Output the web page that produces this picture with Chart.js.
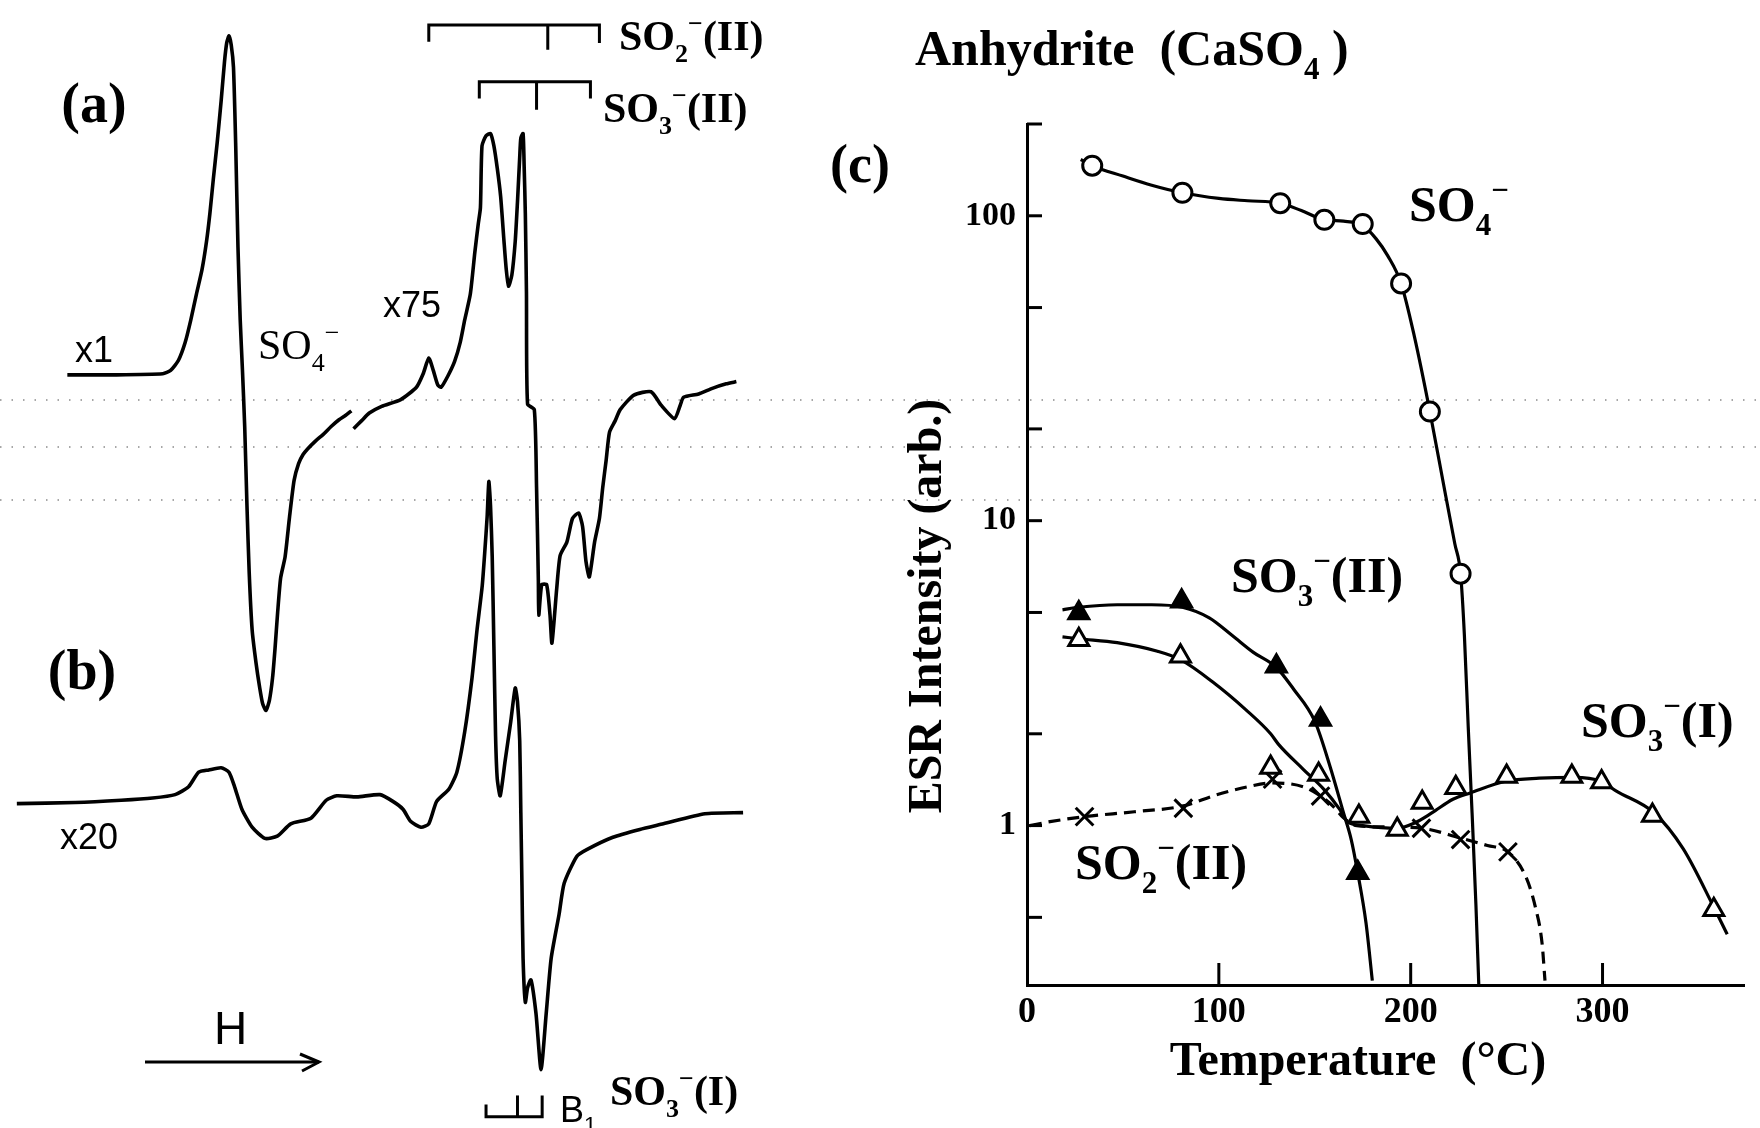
<!DOCTYPE html>
<html>
<head>
<meta charset="utf-8">
<script src="https://cdn.jsdelivr.net/npm/chart.js@4.4.0/dist/chart.umd.min.js"></script>
<style>
  html,body{margin:0;padding:0;background:#fff;}
  #wrap{position:relative;width:1760px;height:1128px;overflow:hidden;background:#fff;}
  #spec{position:absolute;left:0;top:0;}
  #temp{position:absolute;left:800px;top:0;}
</style>
</head>
<body>
<div id="wrap">
  <canvas id="spec" width="800" height="1128"></canvas>
  <canvas id="temp" width="960" height="1128"></canvas>
</div>
<script>
// ---- (a), (b): ESR derivative spectra, [field H (arb.), signal (arb.)]
const SPEC_A_X1 = [[60,1],[100,1],[145,2],[152,5],[159,14],[165,30],[170,50],[175,73],[180,95],[184,120],[187,145],[190,175],[193.5,208],[197,245],[200,280],[202,297],[204,303],[206,295],[208,275],[210,205],[212,115],[214,50],[216,5],[218,-45],[220,-115],[222,-175],[224.6,-226],[228,-255],[231.4,-278],[234,-292],[237,-298],[240,-289],[242.8,-269],[245,-243],[247.4,-210],[250,-180],[254,-161],[258,-125],[262,-93],[266,-78],[270,-70],[274,-65],[281,-58],[288,-52],[295,-45],[302,-39],[308,-35],[313,-31]];
const SPEC_A_X75 = [[315,-47],[322,-40],[329,-33],[340,-27],[357,-21],[371,-10],[377,2],[382,16],[386,5],[390,-8],[393,-10],[399,0],[405,13],[410,30],[414,50],[419,73],[423,110],[426,135],[428,150],[429.4,205],[433,214],[437,216],[440,205],[443,185],[446,160],[449,120],[451,95],[453,80],[456,90],[459,120],[461,155],[463,195],[464,212],[466,216],[467,185],[468,145],[469,75],[470,-25],[476,-30],[478,-99],[479.6,-182],[480,-213],[482.6,-186],[487,-186],[490,-213],[491.7,-238],[496,-189],[499,-160],[505,-148],[510,-127],[515.4,-122],[519,-134],[522,-165],[525,-179],[529.7,-148],[534,-127],[537,-99],[540,-75],[543,-50],[548,-40],[552.5,-30],[564.7,-17],[580,-14],[589,-26],[601,-38],[606,-26],[609,-19],[622.4,-16],[634.6,-11],[647,-7],[656,-5]];
const SPEC_B_X20 = [[15,0],[67,1],[108,3],[136,5],[156,8],[168,15],[177,28],[186,30],[197,32],[204,28],[209,15],[215.5,-5],[224.6,-21],[236,-31],[247,-29],[259,-18],[277,-13],[290.6,3],[300,7],[318,6],[338.5,8],[350,2],[359,-5],[366,-16],[375,-21],[382,-18],[389,2],[400,13],[407,28],[414,64],[420.5,112],[425,155],[429.6,194],[432,226],[434,256],[435.5,287],[437,265],[438.5,220],[440,140],[441.5,60],[443,22],[445.6,7],[450,38],[455,73],[459,103],[461,91],[463,56],[464,-8],[465,-73],[466,-138],[468,-177],[470,-164],[473,-157],[477.5,-187],[482,-237],[486.6,-187],[491,-138],[498,-99],[502.6,-71],[513.8,-47],[522.7,-41],[546,-30],[570,-23],[591,-18],[628,-9],[662,-8]];
// stick diagrams: line positions (H)
const STICK_SO2_II = [382, 488, 534];
const STICK_SO3_II = [427, 478, 526];
const STICK_SO3_I = [433, 461, 483];

// ---- (c): ESR intensity vs temperature
const X_TICKS = [0, 100, 200, 300];
const Y_LABEL_TICKS = [1, 10, 100];
const Y_MINOR_TICKS = [0.5, 2, 5, 20, 50, 200];

const SO4_T = [34, 81, 132, 155, 175, 195, 210, 226];
const SO4_I = [146, 119, 110, 97, 94, 60, 22.8, 6.7];
const SO4_FIT = [[28,153],[34,146],[50,135],[65,126],[81,119],[100,114],[115,112],[132,110],[143,104],[155,97],[165,96],[175,93],[182,84],[188,74],[195,60],[202,40],[210,22.8],[218,12.3],[223,8.4],[226,6.7],[228,4.2],[230,2.1],[232,1.1],[234,0.55],[235.5,0.3]];

const SO3II_T = [27, 80.6, 130, 153, 172.4];
const SO3II_I = [4.98, 5.44, 3.33, 2.23, 0.70];
const SO3II_FIT = [[18.5,5.1],[27,5.2],[47,5.3],[65,5.3],[81,5.2],[95,4.8],[107,4.2],[118,3.7],[130,3.3],[139,2.8],[150,2.2],[158,1.56],[165,1.1],[169,0.9],[172.4,0.7],[176.7,0.48],[180,0.31]];

const SO3I_T = [27, 80, 127, 152, 173, 193, 206, 223.5, 250, 284, 299.5, 326, 358];
const SO3I_I = [4.07, 3.59, 1.55, 1.47, 1.07, 0.97, 1.19, 1.33, 1.45, 1.45, 1.39, 1.08, 0.53];
const SO3I_FIT = [[18.5,4.16],[27,4.1],[47,3.98],[68,3.73],[80,3.5],[97,2.95],[114,2.4],[127,2.0],[131,1.85],[144,1.53],[155,1.31],[163,1.13],[167,1.03],[175,1.0],[193,0.98],[202,1.02],[211,1.1],[222,1.22],[231,1.28],[250,1.4],[267,1.43],[285,1.44],[299,1.4],[307,1.3],[327,1.1],[342,0.84],[358,0.54],[365,0.44]];

const SO2II_T = [30, 81.5, 128, 153, 205.6, 226, 250.7];
const SO2II_I = [1.07, 1.14, 1.42, 1.25, 0.98, 0.90, 0.82];
const SO2II_FIT = [[1.5,1.0],[12,1.03],[30,1.07],[56,1.11],[81.5,1.16],[98.5,1.26],[115,1.34],[128,1.38],[144,1.34],[153,1.25],[160,1.15],[165,1.06],[172,1.0],[185,0.99],[205.6,0.98],[226,0.91],[240,0.86],[250.7,0.82],[260,0.68],[265,0.54],[268.5,0.41],[270,0.31]];

const SERIF = '"Liberation Serif","Times New Roman",serif';
const SANS = '"Liberation Sans",Arial,sans-serif';
const INK = '#000';
const SCAN_ROWS = [400, 447, 500];

// draws text made of normal / sub / sup pieces
function drawRich(ctx, parts, x, y, size, family, weight, align){
  let w = 0;
  const segs = parts.map(([t, k]) => {
    const s = k ? size * 0.62 : size;
    ctx.font = `${weight} ${s}px ${family}`;
    const m = ctx.measureText(t).width;
    const dy = k === 'sub' ? size * 0.28 : (k === 'sup' ? -size * 0.42 : 0);
    const seg = {t, s, dy, dx: w};
    w += m;
    return seg;
  });
  const x0 = align === 'center' ? x - w / 2 : x;
  ctx.textAlign = 'left';
  ctx.textBaseline = 'alphabetic';
  segs.forEach(g => {
    ctx.font = `${weight} ${g.s}px ${family}`;
    ctx.fillText(g.t, x0 + g.dx, y + g.dy);
  });
}
const so = (n, tail) => [['SO',''],[String(n),'sub'],['\u2212','sup'],[tail,'']];

function scanDots(ctx, width){
  ctx.save();
  ctx.strokeStyle = '#8a8a8a';
  ctx.lineWidth = 1.6;
  ctx.setLineDash([1.5, 10]);
  SCAN_ROWS.forEach(r => { ctx.beginPath(); ctx.moveTo(0, r); ctx.lineTo(width, r); ctx.stroke(); });
  ctx.restore();
}

// ---------------- spectra panel ----------------
const BASE_A = 335, BASE_B = 716;
function traceSet(pairs, base){
  return {data: pairs.map(([h, s]) => ({x: h, y: base - s})), borderColor: INK, borderWidth: 3.6,
          pointRadius: 0, tension: 0.2, fill: false};
}
function bracketSets(lines, barY, dir, ends, mid){
  const st = {borderColor: INK, borderWidth: 3, pointRadius: 0, tension: 0, fill: false};
  return [
    {...st, data: [{x: lines[0], y: barY + dir * ends[0]}, {x: lines[0], y: barY}, {x: lines[2], y: barY}, {x: lines[2], y: barY + dir * ends[1]}]},
    {...st, data: [{x: lines[1], y: barY}, {x: lines[1], y: barY + dir * mid}]}
  ];
}

const specDecor = {
  id: 'specDecor',
  beforeDatasetsDraw(chart){ scanDots(chart.ctx, chart.width); },
  afterDraw(chart){
    const ctx = chart.ctx;
    ctx.save();
    ctx.fillStyle = INK;
    ctx.font = `bold 56px ${SERIF}`;
    ctx.textAlign = 'center'; ctx.textBaseline = 'middle';
    ctx.fillText('(a)', 94, 108);
    ctx.fillText('(b)', 82, 675);
    ctx.textAlign = 'left'; ctx.textBaseline = 'alphabetic';
    ctx.font = `36px ${SANS}`;
    ctx.fillText('x1', 75, 362);
    ctx.fillText('x75', 383, 317);
    ctx.fillText('x20', 60, 849);
    ctx.font = `46px ${SANS}`;
    ctx.fillText('H', 214, 1044);
    drawRich(ctx, [['SO',''],['4','sub'],['\u2212','sup']], 258, 359, 42, SERIF, 'normal');
    drawRich(ctx, so(2, '(II)'), 619, 50, 42, SERIF, 'bold');
    drawRich(ctx, so(3, '(II)'), 603, 122, 42, SERIF, 'bold');
    drawRich(ctx, so(3, '(I)'), 610, 1105, 42, SERIF, 'bold');
    drawRich(ctx, [['B',''],['1','sub']], 560, 1122, 36, SANS, 'normal');
    // field direction arrow
    ctx.strokeStyle = INK; ctx.lineWidth = 3;
    ctx.beginPath(); ctx.moveTo(145, 1062); ctx.lineTo(319, 1062); ctx.stroke();
    ctx.beginPath(); ctx.moveTo(300, 1054); ctx.lineTo(319, 1062); ctx.lineTo(302, 1071); ctx.stroke();
    ctx.restore();
  }
};

// ---------------- temperature panel ----------------
function fitSet(pairs, dashed){
  return {data: pairs.map(([t, v]) => ({x: t, y: v})), borderColor: INK, borderWidth: 3.2,
          borderDash: dashed ? [12, 7] : [], pointRadius: 0, cubicInterpolationMode: 'monotone',
          fill: false, order: 2};
}
function markSet(ts, vals, style, filled, r){
  return {data: ts.map((t, i) => ({x: t, y: vals[i]})), showLine: false, pointStyle: style,
          pointRadius: r, pointBorderWidth: 3, pointBorderColor: INK,
          pointBackgroundColor: filled ? INK : '#fff', order: 1};
}

const tempDecor = {
  id: 'tempDecor',
  beforeDatasetsDraw(chart){ scanDots(chart.ctx, chart.width); },
  afterDraw(chart){
    const {ctx, chartArea: a, scales: {x, y}} = chart;
    ctx.save();
    ctx.strokeStyle = INK; ctx.lineWidth = 3;
    [...Y_LABEL_TICKS, ...Y_MINOR_TICKS].forEach(v => {
      const py = y.getPixelForValue(v);
      ctx.beginPath(); ctx.moveTo(a.left, py); ctx.lineTo(a.left + 15, py); ctx.stroke();
    });
    X_TICKS.filter(v => v > 0).forEach(v => {
      const px = x.getPixelForValue(v);
      ctx.beginPath(); ctx.moveTo(px, a.bottom); ctx.lineTo(px, a.bottom - 22); ctx.stroke();
    });
    ctx.fillStyle = INK;
    drawRich(ctx, [['Anhydrite  (CaSO',''],['4','sub'],[' )','']], 115, 65, 50, SERIF, 'bold');
    ctx.font = `bold 54px ${SERIF}`;
    ctx.textAlign = 'center'; ctx.textBaseline = 'alphabetic';
    ctx.fillText('(c)', 60, 182);
    ctx.font = `bold 48px ${SERIF}`;
    ctx.fillText('Temperature  (\u00B0C)', 558, 1075);
    ctx.save();
    ctx.translate(129, 606); ctx.rotate(-Math.PI / 2);
    ctx.textBaseline = 'middle';
    ctx.fillText('ESR Intensity (arb.)', 0, 0);
    ctx.restore();
    drawRich(ctx, [['SO',''],['4','sub'],['\u2212','sup']], 609, 221, 50, SERIF, 'bold');
    drawRich(ctx, so(3, '(II)'), 431, 592, 50, SERIF, 'bold');
    drawRich(ctx, so(3, '(I)'), 781, 737, 50, SERIF, 'bold');
    drawRich(ctx, so(2, '(II)'), 275, 879, 50, SERIF, 'bold');
    ctx.restore();
  }
};

function build(){
  Chart.defaults.font.family = SERIF;
  Chart.defaults.color = INK;

  new Chart(document.getElementById('spec'), {
    type: 'line',
    data: {datasets: [
      traceSet(SPEC_A_X1, BASE_A),
      traceSet(SPEC_A_X75, BASE_A),
      traceSet(SPEC_B_X20, BASE_B),
      ...bracketSets(STICK_SO2_II, 22.3, 1, [15, 16], 22),
      ...bracketSets(STICK_SO3_II, 72.8, 1, [15, 15], 25),
      ...bracketSets(STICK_SO3_I, 995, -1, [11, 19], 19)
    ]},
    options: {
      responsive: false, animation: false, events: [],
      layout: {padding: 0},
      plugins: {legend: {display: false}, tooltip: {enabled: false}},
      scales: {
        x: {type: 'linear', min: 0, max: 712.7, display: false},
        y: {type: 'linear', min: 0, max: 1005, reverse: true, display: false}
      }
    },
    plugins: [specDecor]
  });

  new Chart(document.getElementById('temp'), {
    type: 'line',
    data: {datasets: [
      markSet(SO4_T, SO4_I, 'circle', false, 9.5),
      markSet(SO3II_T, SO3II_I, 'triangle', true, 11.5),
      markSet(SO3I_T, SO3I_I, 'triangle', false, 11.5),
      markSet(SO2II_T, SO2II_I, 'crossRot', false, 12.5),
      fitSet(SO4_FIT, false),
      fitSet(SO3II_FIT, false),
      fitSet(SO3I_FIT, false),
      fitSet(SO2II_FIT, true)
    ]},
    options: {
      responsive: false, animation: false, events: [],
      layout: {padding: {left: 0, right: 0, top: 124, bottom: 0}},
      plugins: {legend: {display: false}, tooltip: {enabled: false}},
      scales: {
        x: {
          type: 'linear', min: 0, max: 374, bounds: 'data',
          afterBuildTicks: s => { s.ticks = X_TICKS.map(v => ({value: v})); },
          afterFit: s => { s.height = 143; },
          grid: {display: false, drawTicks: false},
          border: {display: true, color: INK, width: 3},
          ticks: {color: INK, padding: 6, maxRotation: 0, font: {family: SERIF, size: 36, weight: 'bold'}}
        },
        y: {
          type: 'logarithmic', min: 0.3, max: 200, bounds: 'data',
          afterBuildTicks: s => { s.ticks = Y_LABEL_TICKS.map(v => ({value: v})); },
          afterFit: s => { s.width = 227; },
          grid: {display: false, drawTicks: false},
          border: {display: true, color: INK, width: 3},
          ticks: {color: INK, padding: 11, callback: v => String(v), font: {family: SERIF, size: 34, weight: 'bold'}}
        }
      }
    },
    plugins: [tempDecor]
  });
}

Promise.all([
  document.fonts.load(`bold 40px ${SERIF}`),
  document.fonts.load(`40px ${SERIF}`),
  document.fonts.load(`40px ${SANS}`)
]).then(build, build);
</script>
</body>
</html>
